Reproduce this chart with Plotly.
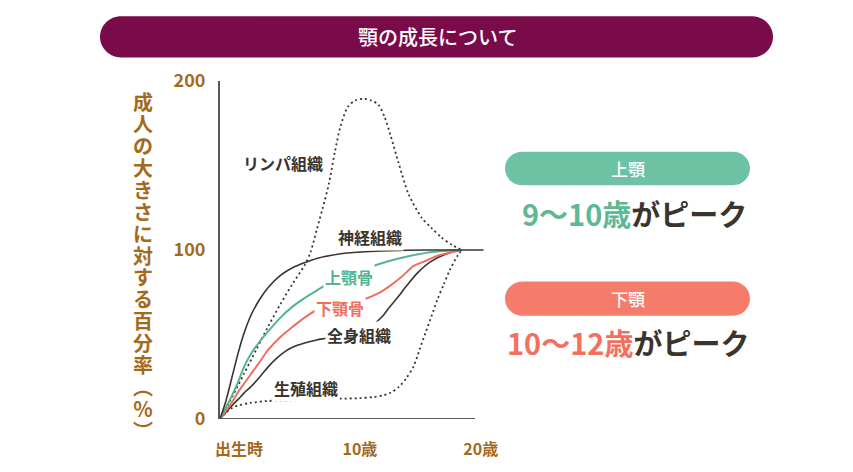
import plotly.graph_objects as go

# --- data --------------------------------------------------------------
title_text = "顎の成長について"
y_title = "成人の大きさに対する百分率︵％︶"
x_tickvals = [0, 10, 20]
x_ticktext = ["出生時", "10歳", "20歳"]
y_tickvals = [0, 100, 200]

lymph_age = [0, 1, 2, 3, 4, 5, 6, 7, 7.5, 8, 8.5, 9, 9.5, 10, 10.6, 11.2, 11.85,
             12.5, 13.1, 13.6, 14.1, 14.75, 15.6, 16.7, 17.5, 18.3, 19.2, 20]
lymph_val = [0, 13, 27, 41, 55, 68, 80, 91, 99, 112, 125, 139, 158, 174, 185, 188.5, 189.5,
             188.5, 186, 179, 168, 152, 133, 119, 113, 107.5, 103, 100]

genital_age = [0, 0.5, 1, 1.5, 2.5, 4, 6, 8, 10, 11.5, 12.7, 13.5, 14.1, 14.8, 15.4,
               16, 16.5, 17, 17.5, 18, 18.5, 19, 19.6, 20]
genital_val = [0, 4, 6.5, 8, 9.5, 10.7, 11, 11.5, 12, 12.3, 13, 14, 15.5, 19, 24,
               31, 41, 51, 61, 71, 79.5, 88, 96, 100]

nerve_age = [0, 0.5, 1, 1.5, 2, 2.6, 3.3, 4, 5, 6, 7, 8, 10, 12, 14, 17, 20, 21.8]
nerve_val = [0, 11, 25, 39, 51, 62, 71, 78, 85, 89.5, 92.5, 95, 97.8, 99, 99.6, 100, 100, 100]

maxilla_age = [0, 0.5, 1, 1.5, 2, 2.6, 3.3, 4, 5, 6, 7, 8, 8.8, 10, 11, 12.4, 14,
               15.4, 17, 18.2, 20]
maxilla_val = [0, 7, 14, 22, 31, 39, 46, 52, 60, 66.5, 71.5, 76, 79.5, 84, 87, 90, 93.5,
               96, 98.3, 99.3, 100]

mandible_age = [0, 0.5, 1, 1.5, 2, 2.6, 3.3, 4, 5, 6, 7, 8, 9, 10, 11, 11.85, 13, 14,
                15, 16, 16.8, 18.2, 20]
mandible_val = [0, 5, 10, 16, 21, 27, 34, 41, 48.5, 54.5, 60, 64.5, 67, 68.5, 69.5, 70.7,
                74, 78.5, 84, 90.5, 93, 97, 100]

body_age = [0, 0.5, 1, 1.5, 2, 2.6, 3.3, 4, 4.7, 5.4, 6, 7, 8, 8.8, 10, 11, 12, 12.7,
            13.4, 14, 14.7, 15.4, 16.3, 17.4, 18.75, 20]
body_val = [0, 4, 8, 11.6, 15.5, 19.4, 25, 31, 36, 40, 42.5, 45, 46.8, 47.8, 49.5, 51, 53,
            56, 60.5, 66, 72, 78.5, 86.2, 93, 97.8, 100]

curve_labels = ["リンパ組織", "神経組織", "上顎骨", "下顎骨", "全身組織", "生殖組織"]
upper_badge, upper_peak_age, peak_suffix = "上顎", "9～10歳", "がピーク"
lower_badge, lower_peak_age = "下顎", "10～12歳"

# --- styling ------------------------------------------------------------
FONT = "Noto Sans CJK JP"
GOLD = "#A5691B"
DARK = "#3B342C"
PLUM = "#7A0B4B"
GREEN = "#52B58F"
RED = "#EF6F5F"
GREEN_PILL = "#6DC2A3"
RED_PILL = "#F57B6B"

W, H = 853, 472
L, R, T, B = 220, 369, 81, 47
PW, PH = W - L - R, H - T - B
X_MAX = PW / 12.09


def paper(x, y):
    """pixel position -> paper coords"""
    return (x - L) / PW, (H - B - y) / PH


def pill(x0, y0, x1, y1):
    r = (y1 - y0) / 2
    k = 0.5523 * r
    pts = [
        ("M", [(x0 + r, y0)]),
        ("L", [(x1 - r, y0)]),
        ("C", [(x1 - r + k, y0), (x1, y0 + r - k), (x1, y0 + r)]),
        ("C", [(x1, y0 + r + k), (x1 - r + k, y1), (x1 - r, y1)]),
        ("L", [(x0 + r, y1)]),
        ("C", [(x0 + r - k, y1), (x0, y1 - r + k), (x0, y1 - r)]),
        ("C", [(x0, y0 + r - k), (x0 + r - k, y0), (x0 + r, y0)]),
    ]
    s = ""
    for cmd, pp in pts:
        s += cmd + " " + " ".join("%.5f,%.5f" % paper(px, py) for px, py in pp) + " "
    return s + "Z"


def text_at(fig, cx, cy, txt, **font):
    px_, py_ = paper(cx, cy)
    fig.add_annotation(x=px_, y=py_, xref="paper", yref="paper", text=txt, showarrow=False,
                       xanchor="center", yanchor="middle", font=dict(family=FONT, **font))


fig = go.Figure()

dots = dict(color=DARK, width=1.8, dash="2px,3px")
solid = dict(color=DARK, width=1.6)
for xs, ys, ln in [
    (lymph_age, lymph_val, dots),
    (genital_age, genital_val, dots),
    (body_age, body_val, solid),
    (mandible_age, mandible_val, dict(color=RED, width=2)),
    (maxilla_age, maxilla_val, dict(color=GREEN, width=2)),
    (nerve_age, nerve_val, solid),
]:
    fig.add_trace(go.Scatter(x=xs, y=ys, mode="lines", line=dict(shape="spline", smoothing=0.8, **ln),
                             hoverinfo="skip", showlegend=False))

# curve labels (white box hides the line behind)
label_pos = [(5.2, 151.2), (12.4, 107.6), (10.67, 84.3), (9.93, 65.7), (11.5, 50.0), (7.1, 18.3)]
label_col = [DARK, DARK, GREEN, RED, DARK, DARK]
for txt, (ax, ay), col in zip(curve_labels, label_pos, label_col):
    fig.add_annotation(x=ax, y=ay, xref="x", yref="y", text=txt, showarrow=False,
                       xanchor="center", yanchor="middle", bgcolor="white", borderpad=1,
                       font=dict(family=FONT, size=16, color=col, weight="bold"))

# vertical y title, one glyph per line
for i, ch in enumerate(y_title):
    text_at(fig, 143, 102 + i * 22.3, ch, size=20, color=GOLD, weight="bold")

shapes = [
    dict(type="path", path=pill(100, 15, 773, 57), xref="paper", yref="paper",
         fillcolor=PLUM, line=dict(width=0), layer="below"),
    dict(type="path", path=pill(505, 153, 750, 187), xref="paper", yref="paper",
         fillcolor=GREEN_PILL, line=dict(width=0), layer="below"),
    dict(type="path", path=pill(505, 285, 750, 320), xref="paper", yref="paper",
         fillcolor=RED_PILL, line=dict(width=0), layer="below"),
    dict(type="line", xref="x", yref="y", x0=0, x1=(475 - L) / 12.09, y0=0, y1=0,
         line=dict(color="#595959", width=2)),
]

text_at(fig, 437, 36, title_text, size=20, color="white", weight=500)
text_at(fig, 628, 170, upper_badge, size=17, color="white", weight=500)
text_at(fig, 628, 302, lower_badge, size=17, color="white", weight=500)

for age_txt, col, (cx, cy) in [(upper_peak_age, "#5DB894", (634, 215)),
                               (lower_peak_age, "#F3705F", (628, 347))]:
    text_at(fig, cx, cy, f'<span style="color:{col}">{age_txt}</span>{peak_suffix}',
            size=29, color=DARK, weight="bold")

fig.update_layout(
    width=W, height=H,
    margin=dict(l=L, r=R, t=T, b=B, pad=0),
    paper_bgcolor="white", plot_bgcolor="white",
    font=dict(family=FONT),
    shapes=shapes,
    showlegend=False,
)
fig.update_xaxes(range=[0, X_MAX], showgrid=False, zeroline=False, showline=False,
                 tickvals=x_tickvals, ticktext=x_ticktext, ticks="",
                 ticklabelshift=19, ticklabelstandoff=19,
                 tickfont=dict(family=FONT, size=16, color=GOLD, weight="bold"))
fig.update_yaxes(range=[0, 200], showgrid=False, zeroline=False, showline=True,
                 linecolor="#595959", linewidth=2,
                 tickvals=y_tickvals, ticks="", ticklabelstandoff=9,
                 tickfont=dict(family=FONT, size=18, color=GOLD, weight="bold"))

# page has an 8px default body margin; drop it so the figure sits at 0,0
fig.write_html("out.html", config={"displayModeBar": False},
               post_script="document.body.style.margin='0px';")
